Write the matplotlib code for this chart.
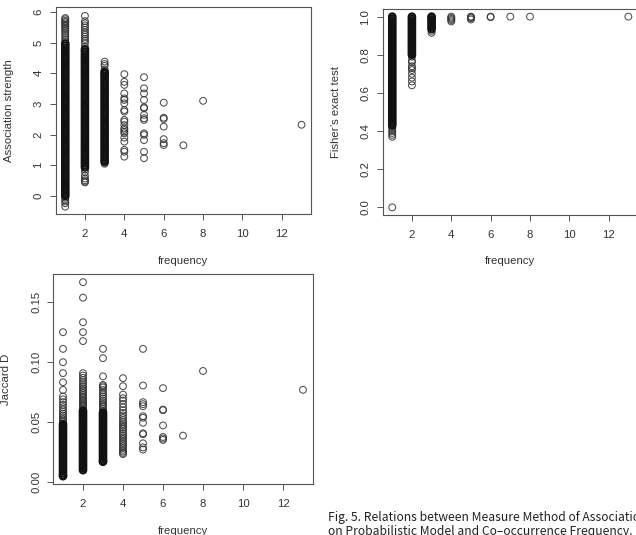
import matplotlib
matplotlib.use("Agg")
import matplotlib.pyplot as plt

# ---------------- data ----------------
freq_levels = [1, 2, 3, 4, 5, 6, 7, 8, 13]
x_ticks = [2, 4, 6, 8, 10, 12]

# Association strength by co-occurrence frequency
# (*_core = part of a column where points are so dense they merge into a solid band)
assoc_f1 = [5.80, 5.76, 5.71, 5.67, 5.63, 5.58, 5.54, 5.49, 5.44, 5.38, 5.31, 5.25, 5.18, 5.11, 5.04,
            -0.06, -0.12, -0.18, -0.24, -0.35]
assoc_f1_core = [4.97, 4.90, 4.83, 4.76, 4.69, 4.62, 4.55, 4.48, 4.41, 4.34, 4.27, 4.20, 4.13, 4.06,
                 3.99, 3.92, 3.85, 3.78, 3.71, 3.64, 3.57, 3.50, 3.43, 3.36, 3.29, 3.22, 3.15, 3.08,
                 3.01, 2.94, 2.87, 2.80, 2.73, 2.66, 2.59, 2.52, 2.45, 2.38, 2.31, 2.24, 2.17, 2.10,
                 2.03, 1.96, 1.89, 1.82, 1.75, 1.68, 1.61, 1.54, 1.47, 1.40, 1.33, 1.26, 1.19, 1.12,
                 1.05, 0.98, 0.91, 0.84, 0.77, 0.70, 0.63, 0.56, 0.49, 0.42, 0.35, 0.28, 0.21, 0.14,
                 0.07, 0.00]
assoc_f2 = [5.87, 5.70, 5.63, 5.56, 5.49, 5.41, 5.33, 5.26, 5.19, 5.12, 5.06, 4.98, 4.86,
            0.86, 0.78, 0.66, 0.57, 0.51, 0.47, 0.44]
assoc_f2_core = [4.78, 4.71, 4.64, 4.57, 4.50, 4.43, 4.36, 4.29, 4.22, 4.15, 4.08, 4.01, 3.94, 3.87,
                 3.80, 3.73, 3.66, 3.59, 3.52, 3.45, 3.38, 3.31, 3.24, 3.17, 3.10, 3.03, 2.96, 2.89,
                 2.82, 2.75, 2.68, 2.61, 2.54, 2.47, 2.40, 2.33, 2.26, 2.19, 2.12, 2.05, 1.98, 1.91,
                 1.84, 1.77, 1.70, 1.63, 1.56, 1.49, 1.42, 1.35, 1.28, 1.21, 1.14, 1.07, 1.00, 0.93]
assoc_f3 = [4.38, 4.30, 4.24, 4.12, 4.07, 1.08, 1.05]
assoc_f3_core = [4.03, 3.98, 3.91, 3.84, 3.77, 3.70, 3.63, 3.56, 3.49, 3.42, 3.35, 3.28, 3.21, 3.14,
                 3.07, 3.00, 2.93, 2.86, 2.79, 2.72, 2.65, 2.58, 2.51, 2.44, 2.37, 2.30, 2.23, 2.16,
                 2.09, 2.02, 1.95, 1.88, 1.81, 1.74, 1.67, 1.60, 1.53, 1.46, 1.39, 1.32, 1.25, 1.18,
                 1.12]
assoc_f4 = [3.97, 3.72, 3.62, 3.34, 3.18, 3.13, 3.02, 2.80, 2.75, 2.48, 2.42, 2.31, 2.20, 2.15,
            2.09, 2.04, 1.90, 1.77, 1.50, 1.44, 1.28]
assoc_f5 = [3.87, 3.51, 3.34, 3.13, 2.89, 2.86, 2.64, 2.53, 2.48, 2.04, 1.99, 1.82, 1.44, 1.23]
assoc_f6 = [3.04, 2.55, 2.51, 2.26, 1.85, 1.72, 1.66]
assoc_f7 = [1.65]
assoc_f8 = [3.10]
assoc_f13 = [2.32]

# Fisher's exact test by co-occurrence frequency
fisher_f1 = [0.00, 0.37, 0.38, 0.39, 0.40, 0.41, 0.42]
fisher_f1_core = [0.43, 0.44, 0.45, 0.46, 0.47, 0.48, 0.49, 0.50, 0.51, 0.52, 0.53, 0.54, 0.55,
                  0.56, 0.57, 0.58, 0.59, 0.60, 0.61, 0.62, 0.63, 0.64, 0.65, 0.66, 0.67, 0.68,
                  0.69, 0.70, 0.71, 0.72, 0.73, 0.74, 0.75, 0.76, 0.77, 0.78, 0.79, 0.80, 0.81,
                  0.82, 0.83, 0.84, 0.85, 0.86, 0.87, 0.88, 0.89, 0.90, 0.91, 0.92, 0.93, 0.94,
                  0.95, 0.96, 0.97, 0.98, 0.99, 1.00]
fisher_f2 = [0.64, 0.66, 0.68, 0.70, 0.72, 0.73, 0.74, 0.76, 0.77, 0.79]
fisher_f2_core = [0.80, 0.81, 0.82, 0.83, 0.84, 0.85, 0.86, 0.87, 0.88, 0.89, 0.90, 0.91, 0.92,
                  0.93, 0.94, 0.95, 0.96, 0.97, 0.98, 0.99, 1.00]
fisher_f3 = [0.915, 0.925]
fisher_f3_core = [0.935, 0.945, 0.955, 0.965, 0.975, 0.985, 0.995, 1.00]
fisher_f4 = [0.975, 0.982, 0.988, 0.994, 1.00]
fisher_f5 = [0.985, 0.992, 0.997, 1.00]
fisher_f6 = [0.997, 1.00]
fisher_f7 = [1.00]
fisher_f8 = [1.00]
fisher_f13 = [1.00]

# Jaccard D by co-occurrence frequency
jac_f1 = [0.1250, 0.1111, 0.1000, 0.0909, 0.0833, 0.0769, 0.0714, 0.0690, 0.0667, 0.0645, 0.0625,
          0.0606, 0.0588, 0.0571, 0.0556, 0.0541, 0.0526, 0.0513, 0.0500]
jac_f1_core = [0.0483, 0.0466, 0.0449, 0.0432, 0.0415, 0.0398, 0.0381, 0.0364, 0.0347, 0.0330,
               0.0313, 0.0296, 0.0279, 0.0262, 0.0245, 0.0228, 0.0211, 0.0194, 0.0177, 0.0160,
               0.0143, 0.0126, 0.0109, 0.0092, 0.0075, 0.0058, 0.0050]
jac_f2 = [0.1667, 0.1538, 0.1333, 0.1250, 0.1176, 0.0909, 0.0889, 0.0870, 0.0851, 0.0833, 0.0816,
          0.0800, 0.0784, 0.0769, 0.0755, 0.0741, 0.0727, 0.0714, 0.0702, 0.0690, 0.0678, 0.0667,
          0.0656, 0.0645, 0.0635, 0.0625, 0.0610]
jac_f2_core = [0.0595, 0.0580, 0.0565, 0.0550, 0.0535, 0.0520, 0.0505, 0.0490, 0.0475, 0.0460,
               0.0445, 0.0430, 0.0415, 0.0400, 0.0385, 0.0370, 0.0355, 0.0340, 0.0325, 0.0310,
               0.0295, 0.0280, 0.0265, 0.0250, 0.0235, 0.0220, 0.0205, 0.0190, 0.0175, 0.0160,
               0.0145, 0.0130, 0.0115, 0.0100]
jac_f3 = [0.1111, 0.1034, 0.0882, 0.0811, 0.0800, 0.0789, 0.0769, 0.0750, 0.0732, 0.0714, 0.0698,
          0.0682, 0.0667, 0.0652, 0.0638, 0.0625, 0.0610, 0.0595]
jac_f3_core = [0.0580, 0.0565, 0.0550, 0.0535, 0.0520, 0.0505, 0.0490, 0.0475, 0.0460, 0.0445,
               0.0430, 0.0415, 0.0400, 0.0385, 0.0370, 0.0355, 0.0340, 0.0325, 0.0310, 0.0295,
               0.0280, 0.0265, 0.0250, 0.0235, 0.0220, 0.0205, 0.0190, 0.0175, 0.0170]
jac_f4 = [0.0867, 0.0800, 0.0730, 0.0700, 0.0680, 0.0652, 0.0625, 0.0600, 0.0577, 0.0556, 0.0536,
          0.0517, 0.0500, 0.0484, 0.0469, 0.0455, 0.0441, 0.0423, 0.0405, 0.0390, 0.0375, 0.0361,
          0.0345, 0.0330, 0.0315, 0.0300, 0.0286, 0.0270, 0.0256, 0.0244, 0.0234]
jac_f5 = [0.1111, 0.0806, 0.0667, 0.0650, 0.0633, 0.0550, 0.0537, 0.0495, 0.0407, 0.0400, 0.0324,
          0.0290, 0.0272]
jac_f6 = [0.0784, 0.0605, 0.0600, 0.0473, 0.0377, 0.0364, 0.0352]
jac_f7 = [0.0388]
jac_f8 = [0.0927]
jac_f13 = [0.0770]

assoc_cols = [assoc_f1, assoc_f2, assoc_f3, assoc_f4, assoc_f5, assoc_f6, assoc_f7, assoc_f8, assoc_f13]
assoc_core = [assoc_f1_core, assoc_f2_core, assoc_f3_core, [], [], [], [], [], []]
fisher_cols = [fisher_f1, fisher_f2, fisher_f3, fisher_f4, fisher_f5, fisher_f6, fisher_f7, fisher_f8, fisher_f13]
fisher_core = [fisher_f1_core, fisher_f2_core, fisher_f3_core, [], [], [], [], [], []]
jac_cols = [jac_f1, jac_f2, jac_f3, jac_f4, jac_f5, jac_f6, jac_f7, jac_f8, jac_f13]
jac_core = [jac_f1_core, jac_f2_core, jac_f3_core, [], [], [], [], [], []]

assoc_yticks = [0, 1, 2, 3, 4, 5, 6]
fisher_yticks = [0.0, 0.2, 0.4, 0.6, 0.8, 1.0]
fisher_ylabels = ["0.0", "0.2", "0.4", "0.6", "0.8", "1.0"]
jac_yticks = [0.00, 0.05, 0.10, 0.15]
jac_ylabels = ["0.00", "0.05", "0.10", "0.15"]

caption_line1 = "Fig. 5. Relations between Measure Method of Association Based"
caption_line2 = "on Probabilistic Model and Co\u2013occurrence Frequency."

# ---------------- drawing ----------------
W, H = 636, 535
plt.rcParams["font.family"] = ["Liberation Sans", "DejaVu Sans"]
TXT = "#333333"
BOX = "#555555"
FS = 8.2

fig = plt.figure(figsize=(W / 100, H / 100), dpi=100)


def px_axes(l, r, t, b):
    return fig.add_axes([l / W, 1 - b / H, (r - l) / W, (b - t) / H])


def panel(ax, cols, core, ylim, yticks, ylabels, ylabel):
    for f, vals, cvals in zip(freq_levels, cols, core):
        ax.scatter([f] * len(vals), vals, s=24, marker="o", facecolors="none",
                   edgecolors="#303030", linewidths=0.75, alpha=0.85, zorder=3)
        if cvals:
            ax.scatter([f] * len(cvals), cvals, s=22, marker="o", facecolors="none",
                       edgecolors="#111111", linewidths=1.5, zorder=4)
    ax.set_xlim(0.52, 13.48)
    ax.set_ylim(*ylim)
    ax.set_xticks(x_ticks)
    ax.set_xticklabels([str(t) for t in x_ticks])
    ax.set_yticks(yticks)
    ax.set_yticklabels(ylabels, rotation=90, va="center")
    for sp in ax.spines.values():
        sp.set_color(BOX)
        sp.set_linewidth(0.8)
    ax.tick_params(direction="out", length=4.3, width=0.7, color=BOX,
                   labelsize=FS, labelcolor=TXT)
    ax.tick_params(axis="x", pad=6.5)
    ax.tick_params(axis="y", pad=4.5)
    ax.set_xlabel("frequency", fontsize=FS, color=TXT, va="center")
    ax.xaxis.set_label_coords(0.5, -0.225)
    ax.set_ylabel(ylabel, fontsize=FS, color=TXT, va="center")
    ax.yaxis.set_label_coords(-0.183, 0.5)


ax1 = px_axes(55.8, 311.0, 7, 214)
panel(ax1, assoc_cols, assoc_core, (-0.59, 6.16), assoc_yticks,
      [str(t) for t in assoc_yticks], "Association strength")

ax2 = px_axes(382.8, 637.8, 9, 215)
panel(ax2, fisher_cols, fisher_core, (-0.04, 1.04), fisher_yticks, fisher_ylabels,
      "Fisher\u2019s exact test")

ax3 = px_axes(53.4, 312.6, 274, 484)
panel(ax3, jac_cols, jac_core, (-0.0015, 0.1735), jac_yticks, jac_ylabels, "Jaccard D")

fig.text(328 / W, 1 - 517 / H, caption_line1, fontsize=8.7, color="#222222",
         family=["Noto Sans CJK KR", "DejaVu Sans"], va="center", ha="left")
fig.text(328 / W, 1 - 532 / H, caption_line2, fontsize=8.7, color="#222222",
         family=["Noto Sans CJK KR", "DejaVu Sans"], va="center", ha="left")

fig.savefig("out.png", dpi=100)
